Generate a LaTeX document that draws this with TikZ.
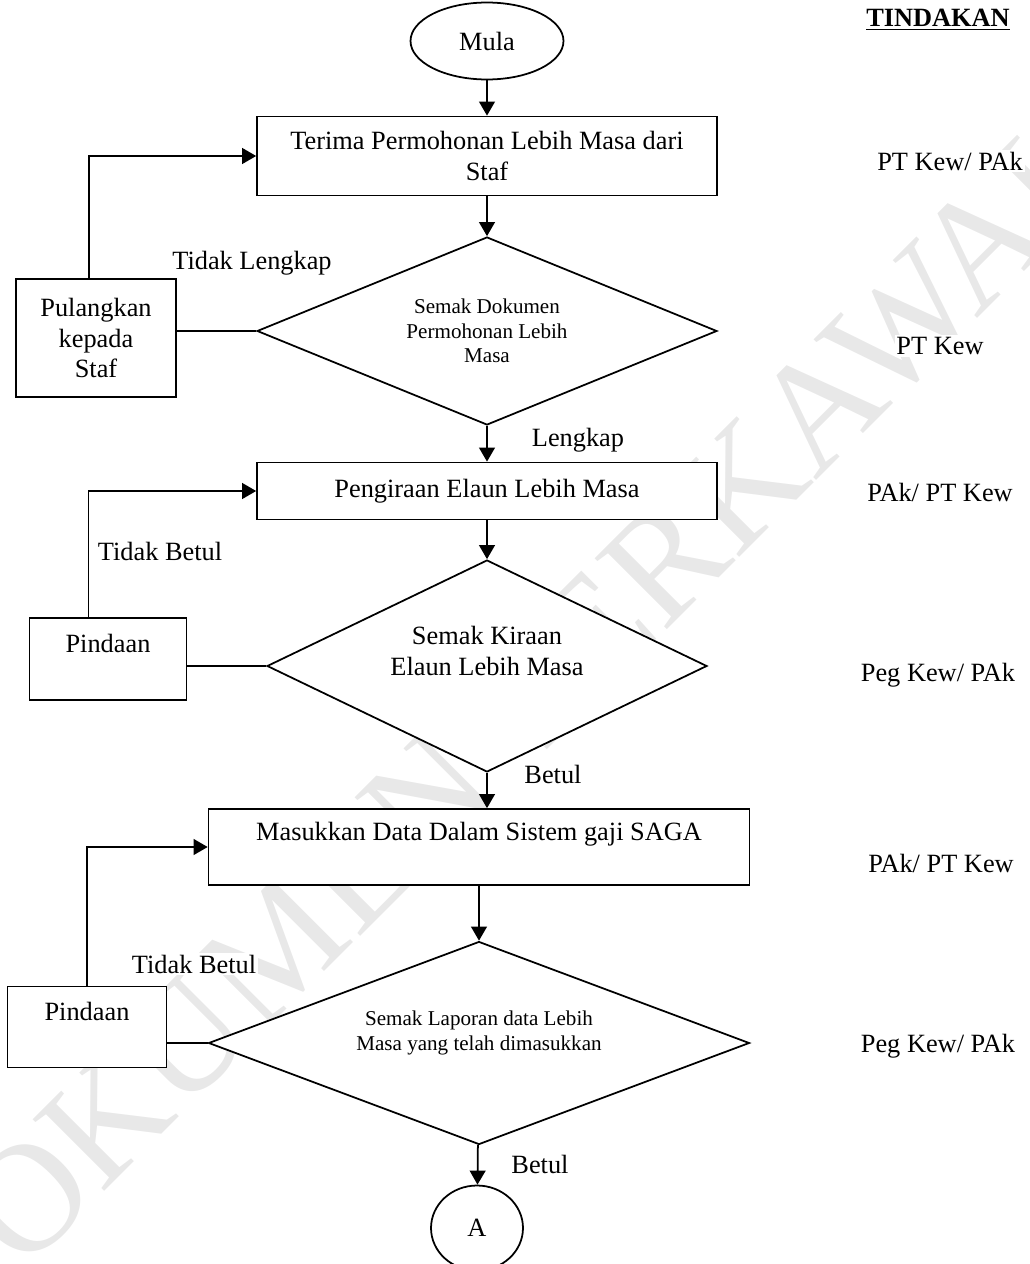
\documentclass[tikz,border=0pt]{standalone}
\usepackage{fontspec}
\setmainfont{Liberation Serif}
\usetikzlibrary{shapes.geometric,arrows.meta,positioning}
\newcommand{\besar}{\fontsize{15}{17.5}\selectfont}
\newcommand{\kecil}{\fontsize{12}{14}\selectfont}

\begin{document}
\begin{tikzpicture}[x=0.02cm,y=-0.02cm,>={Triangle[length=8pt,width=9pt]},line width=1pt,
every node/.append style={font=\besar},
proses/.style={draw, rectangle, fill=white, align=center, inner sep=2pt},
semakan/.style={draw, diamond, fill=white, align=center, inner sep=0pt},
hujung/.style={draw, ellipse, fill=white, inner sep=0pt},
catatan/.style={fill=white, inner sep=1pt}]
\useasboundingbox (0,0) rectangle (1029,1264);
% tera air di belakang
\node[rotate=45, text=gray!18, font=\fontsize{88}{90}\selectfont] (tera) at (498,728) {DOKUMEN TERKAWAL};

\node[hujung, minimum width=3.06cm, minimum height=1.54cm] (mula) at (487,41) {Mula};
\node[proses, minimum width=9.2cm, minimum height=1.58cm] (terima) at (487,156) {Terima Permohonan Lebih Masa dari\\Staf};
\node[semakan, aspect=2.45, minimum width=9.2cm, minimum height=3.76cm, font=\kecil] (semakA) at (487,331) {Semak Dokumen\\Permohonan Lebih\\Masa};
\node[proses, minimum width=3.2cm, minimum height=2.36cm] (pulang) at (96,338) {Pulangkan\\kepada\\Staf};
\node[proses, minimum width=9.2cm, minimum height=1.14cm] (kira) at (487,491) {Pengiraan Elaun Lebih Masa};
\node[semakan, aspect=2.08, minimum width=8.8cm, minimum height=4.24cm] (semakB) at (487,666) {Semak Kiraan\\Elaun Lebih Masa\\\mbox{}};
\node[proses, minimum width=3.14cm, minimum height=1.64cm] (pindaA) at (108,659) {Pindaan\\\mbox{}};
\node[proses, minimum width=10.82cm, minimum height=1.52cm] (masuk) at (479,847) {Masukkan Data Dalam Sistem gaji SAGA\\\mbox{}};
\node[semakan, aspect=2.66, minimum width=10.82cm, minimum height=4.06cm, font=\kecil] (semakC) at (479,1043) {Semak Laporan data Lebih\\Masa yang telah dimasukkan\\\mbox{}};
\node[proses, minimum width=3.18cm, minimum height=1.62cm] (pindaB) at (87,1027) {Pindaan\\\mbox{}};
\node[hujung, minimum width=1.84cm, minimum height=1.7cm] (sambung) at (477,1228) {A};

\node[catatan] (tidakA) at (252,263) {Tidak Lengkap};
\node[catatan] (lengkap) at (578,440) {Lengkap};
\node[catatan] (tidakB) at (160,551) {Tidak Betul};
\node[catatan] (betulA) at (553,774) {Betul};
\node[catatan] (tidakC) at (194,964) {Tidak Betul};
\node[catatan] (betulB) at (540,1164) {Betul};

\node[font=\besar\bfseries] (tindakan) at (938,20) {\underline{TINDAKAN}};
\node[catatan] (tindA) at (950,161) {PT Kew/ PAk};
\node[catatan] (tindB) at (940,346) {PT Kew};
\node[catatan] (tindC) at (940,492) {PAk/ PT Kew};
\node[catatan] (tindD) at (938,675) {Peg Kew/ PAk};
\node[catatan] (tindE) at (941,863) {PAk/ PT Kew};
\node[catatan] (tindF) at (938,1046) {Peg Kew/ PAk};

\draw[->] (mula) -- (terima);
\draw[->] (terima) -- (semakA);
\draw[->] (semakA) -- (kira);
\draw[->] (kira) -- (semakB);
\draw[->] (semakB) -- (semakB.south |- masuk.north);
\draw[->] (masuk) -- (semakC);
\draw[->] (semakC) -- (sambung);
\draw (semakA.west) -- (pulang.east |- semakA.west);
\draw[->] ([xshift=-0.14cm]pulang.north) |- (terima.west);
\draw (semakB.west) -- (pindaA.east |- semakB.west);
\draw[->] ([xshift=-0.39cm]pindaA.north) |- (kira.west);
\draw (semakC.west) -- (pindaB.east |- semakC.west);
\draw[->] (pindaB.north) |- (masuk.west);
\end{tikzpicture}
\end{document}
